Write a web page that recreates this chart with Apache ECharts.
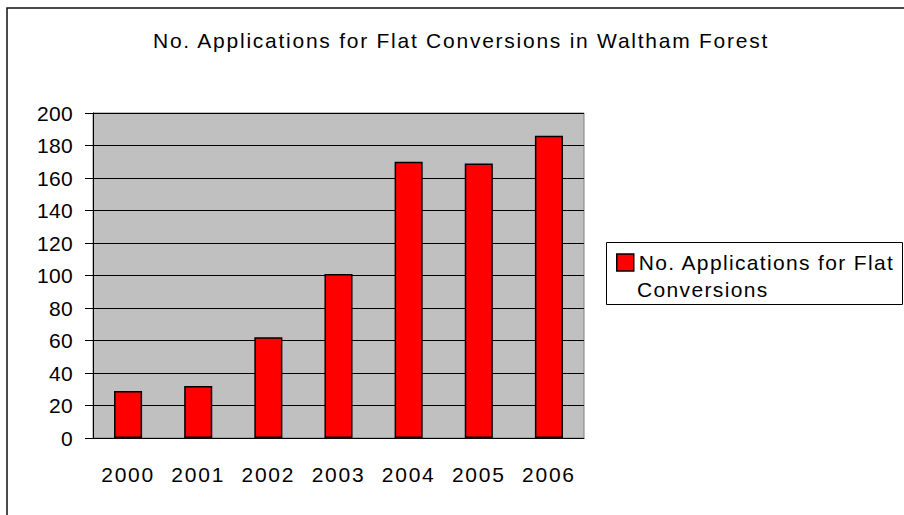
<!DOCTYPE html>
<html>
<head>
<meta charset="utf-8">
<script src="https://cdn.jsdelivr.net/npm/echarts@6/dist/echarts.min.js"></script>
<style>
html,body{margin:0;padding:0;background:#fff;}
#c{width:904px;height:515px;}
#c svg text{letter-spacing:1.35px;}
#c svg text[text-anchor="middle"]{letter-spacing:1.75px;}
#c svg text[text-anchor="end"]{letter-spacing:0.3px;}
</style>
</head>
<body>
<div id="c"></div>
<script>
const titleText = 'No. Applications for Flat Conversions in Waltham Forest';
const seriesName = 'No. Applications for Flat Conversions';
const years = ['2000', '2001', '2002', '2003', '2004', '2005', '2006'];
const applications = [29, 32, 62, 101, 170, 169, 186];
const yTicks = [0, 20, 40, 60, 80, 100, 120, 140, 160, 180, 200];

const FONT = 'Liberation Sans, Arial, sans-serif';
const FS = 21;
const chart = echarts.init(document.getElementById('c'), null, {renderer: 'svg'});
chart.setOption({
  animation: false,
  backgroundColor: '#ffffff',
  title: {
    text: titleText,
    left: 456, textAlign: 'center',
    top: 25,
    textStyle: {fontFamily: FONT, fontSize: FS, fontWeight: 'normal', color: '#000'}
  },
  legend: {
    left: 606, top: 241,
    orient: 'vertical',
    itemWidth: 17, itemHeight: 17, itemGap: 4,
    padding: [11, 10, 10, 10],
    icon: 'rect',
    formatter: () => 'No. Applications for Flat',
    textStyle: {fontFamily: FONT, fontSize: FS, color: '#000'},
    itemStyle: {borderColor: '#000', borderWidth: 1.5}
  },
  graphic: [
    {type: 'rect', shape: {x: 7, y: 8, width: 910, height: 520},
     style: {fill: 'none', stroke: '#111', lineWidth: 1.5}, silent: true},
    {type: 'rect', shape: {x: 606.5, y: 242.5, width: 296, height: 62},
     style: {fill: 'none', stroke: '#000', lineWidth: 1}, silent: true},
    {type: 'text', left: 637, top: 279,
     style: {text: 'Conversions', font: FS + 'px ' + FONT, fill: '#000'}}
  ],
  grid: {
    left: 93, right: 320, top: 113, bottom: 77,
    show: true, backgroundColor: '#c0c0c0', borderColor: '#808080', borderWidth: 1
  },
  xAxis: {
    type: 'category', data: years,
    axisLine: {lineStyle: {color: '#000', width: 1}},
    axisTick: {length: 8, lineStyle: {color: '#000'}},
    axisLabel: {margin: 26, fontFamily: FONT, fontSize: FS, color: '#000'}
  },
  yAxis: {
    type: 'value', min: 0, max: 200, interval: 20,
    axisLine: {show: true, lineStyle: {color: '#000', width: 1}},
    axisTick: {show: true, length: 8, lineStyle: {color: '#000'}},
    axisLabel: {margin: 20, fontFamily: FONT, fontSize: FS, color: '#000',
      formatter: v => yTicks.includes(v) ? String(v) : ''},
    splitLine: {show: true, lineStyle: {color: '#000', width: 1}}
  },
  series: [{
    name: seriesName, type: 'bar', data: applications,
    barWidth: '40%',
    itemStyle: {color: '#ff0000', borderColor: '#000', borderWidth: 1.5}
  }]
});
</script>
</body>
</html>
